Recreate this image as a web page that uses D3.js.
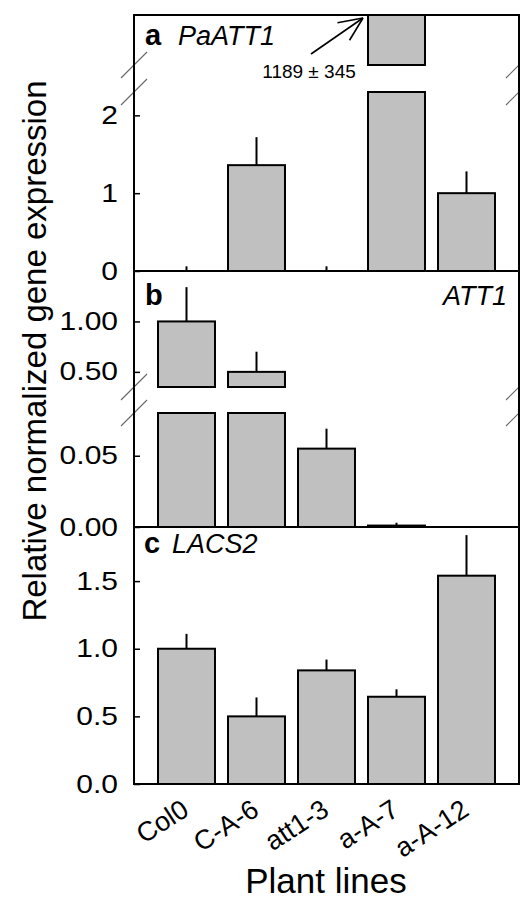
<!DOCTYPE html>
<html>
<head>
<meta charset="utf-8">
<script src="https://cdn.jsdelivr.net/npm/d3@7"></script>
<style>
  html, body { margin: 0; padding: 0; background: #fff; }
  svg { display: block; }
  text { font-family: "Liberation Sans", Arial, sans-serif; fill: #000; }
</style>
</head>
<body>
<svg id="chart" width="520" height="900"></svg>
<script>
// ---------------- data ----------------
const categories = ["Col0", "C-A-6", "att1-3", "a-A-7", "a-A-12"];

const paatt1Values = [0, 1.36, 0, 1189, 1.0];
const paatt1Errors = [0.06, 0.36, 0.06, 345, 0.28];

const att1Values = [1.0, 0.5, 0.055, 0.001, 0];
const att1Errors = [0.34, 0.20, 0.014, 0.002, 0];

const lacs2Values = [1.0, 0.50, 0.84, 0.645, 1.54];
const lacs2Errors = [0.11, 0.14, 0.08, 0.055, 0.30];

const paatt1LowerTicks = [0, 1, 2];
const att1UpperTicks = [0.5, 1.0];
const att1LowerTicks = [0, 0.05];
const lacs2Ticks = [0, 0.5, 1.0, 1.5];

const paatt1Annotation = "1189 ± 345";
const yTitle = "Relative normalized gene expression";
const xTitle = "Plant lines";

// ---------------- layout ----------------
const svg = d3.select("#chart");
const L = 134, R = 519;
const FONT = '"Liberation Sans", Arial, sans-serif';
const TICK_SX = 1.2;

const x = d3.scaleBand().domain(categories).range([L, R])
  .paddingInner(0.186).paddingOuter(0.343);

const panels = [
  {
    values: paatt1Values, errors: paatt1Errors,
    segments: [
      { domain: [0, 2.3], px: [271, 92], ticks: paatt1LowerTicks, fmt: d3.format("d") },
      { domain: [850, 1150], px: [65, 15], ticks: [], fmt: null }
    ]
  },
  {
    values: att1Values, errors: att1Errors,
    segments: [
      { domain: [0, 0.08], px: [527, 413], ticks: att1LowerTicks, fmt: d3.format(".2f") },
      { domain: [0.35, 1.5], px: [387, 271], ticks: att1UpperTicks, fmt: d3.format(".2f") }
    ]
  },
  {
    values: lacs2Values, errors: lacs2Errors,
    segments: [
      { domain: [0, 1.9], px: [784, 527], ticks: lacs2Ticks, fmt: d3.format(".1f") }
    ]
  }
];

panels.forEach(p => {
  const g = svg.append("g");
  p.segments.forEach(seg => {
    const y = d3.scaleLinear().domain(seg.domain).range(seg.px);
    const [lo, hi] = seg.domain;
    p.values.forEach((v, i) => {
      const cx = x(categories[i]) + x.bandwidth() / 2;
      if (v >= lo && v <= hi && p.errors[i] > 0) {
        g.append("line")
          .attr("x1", cx).attr("x2", cx)
          .attr("y1", y(v))
          .attr("y2", y(Math.min(v + p.errors[i], hi)))
          .attr("stroke", "#000").attr("stroke-width", 2);
      }
      if (v <= lo) return;
      const top = y(Math.min(v, hi));
      const bot = y(Math.max(lo, 0));
      g.append("rect")
        .attr("x", x(categories[i]))
        .attr("width", x.bandwidth())
        .attr("y", top)
        .attr("height", Math.max(bot - top, 0.5))
        .attr("fill", "#c0c0c0")
        .attr("stroke", "#000")
        .attr("stroke-width", 2);
    });
    if (seg.ticks.length) {
      const ax = d3.axisLeft(y).tickValues(seg.ticks).tickFormat(seg.fmt)
        .tickSizeInner(-6).tickSizeOuter(0).tickPadding(16);
      const ag = svg.append("g").attr("transform", `translate(${L},0)`).call(ax);
      ag.select(".domain").remove();
      ag.selectAll(".tick line").attr("stroke", "#000").attr("stroke-width", 1.5);
      ag.selectAll(".tick text")
        .attr("font-family", FONT).attr("font-size", 25).attr("fill", "#000")
        .attr("x", -16 / TICK_SX)
        .attr("transform", `scale(${TICK_SX},1)`);
    }
  });
  if (p.segments.length > 1) {
    const gapEdges = [p.segments[0].px[1], p.segments[1].px[0]];
    gapEdges.forEach(yy => {
      [L, R].forEach(xx => {
        svg.append("line")
          .attr("x1", xx - 13).attr("y1", yy + 13)
          .attr("x2", xx + 13).attr("y2", yy - 13)
          .attr("stroke", "#666").attr("stroke-width", 1.1);
      });
    });
  }
});

// frame + dividers
svg.append("rect").attr("x", L).attr("y", 15).attr("width", R - L).attr("height", 784 - 15)
  .attr("fill", "none").attr("stroke", "#000").attr("stroke-width", 2);
[271, 527].forEach(yy => {
  svg.append("line").attr("x1", L).attr("x2", R).attr("y1", yy).attr("y2", yy)
    .attr("stroke", "#000").attr("stroke-width", 2);
});

// panel labels
function panelLabel(letter, gene, lx, gx, by, anchorGene) {
  svg.append("text").attr("x", lx).attr("y", by).attr("font-size", 29)
    .attr("font-weight", "bold").attr("font-family", FONT).text(letter);
  svg.append("text").attr("x", gx).attr("y", by).attr("font-size", 27)
    .attr("font-style", "italic").attr("font-family", FONT)
    .attr("text-anchor", anchorGene).text(gene);
}
panelLabel("a", "PaATT1", 145, 178, 45, "start");
panelLabel("b", "ATT1", 145, 507, 305, "end");
panelLabel("c", "LACS2", 144, 172, 553, "start");

// annotation in panel a
const tipX = x("a-A-7") - 5, tipY = 18;
const tailX = tipX - 52, tailY = tipY + 36;
const ang = Math.atan2(tipY - tailY, tipX - tailX);
svg.append("line").attr("x1", tailX).attr("y1", tailY).attr("x2", tipX).attr("y2", tipY)
  .attr("stroke", "#000").attr("stroke-width", 1.6);
[0.42, -0.42].forEach(da => {
  svg.append("line").attr("x1", tipX).attr("y1", tipY)
    .attr("x2", tipX - 26 * Math.cos(ang + da)).attr("y2", tipY - 26 * Math.sin(ang + da))
    .attr("stroke", "#000").attr("stroke-width", 1.6);
});
svg.append("text").attr("x", 309).attr("y", 78).attr("text-anchor", "middle")
  .attr("font-size", 19).attr("font-family", FONT).text(paatt1Annotation);

// x tick labels
categories.forEach(c => {
  const cx = x(c) + x.bandwidth() / 2 + 4;
  svg.append("text")
    .attr("transform", `translate(${cx},814) rotate(-33)`)
    .attr("text-anchor", "end")
    .attr("font-size", 27).attr("font-family", FONT).text(c);
});

// axis titles
svg.append("text").attr("transform", "translate(46,351) rotate(-90)")
  .attr("text-anchor", "middle").attr("font-size", 33).attr("font-family", FONT).text(yTitle);
svg.append("text").attr("x", 326).attr("y", 893).attr("text-anchor", "middle")
  .attr("font-size", 35).attr("font-family", FONT).text(xTitle);
</script>
</body>
</html>
